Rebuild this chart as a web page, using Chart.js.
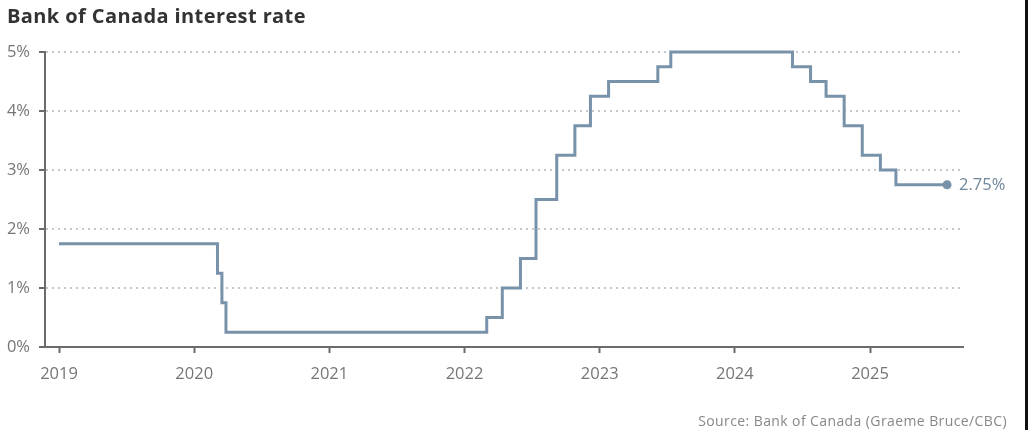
<!DOCTYPE html>
<html>
<head>
<meta charset="utf-8">
<script src="https://cdn.jsdelivr.net/npm/chart.js@4"></script>
<style>
  html, body { margin: 0; padding: 0; background: #fff; }
  body { width: 1028px; height: 430px; position: relative; overflow: hidden; font-family: "Open Sans", sans-serif; }
  #chart { position: absolute; left: 0; top: 0; }
  #title { position: absolute; left: 7px; top: 2px; font-size: 20px; font-weight: 700; letter-spacing: 0.4px; color: #333; white-space: nowrap; }
  #source { position: absolute; right: 21px; top: 411px; font-size: 14px; letter-spacing: 0.4px; color: #888; white-space: nowrap; }
  #edge { position: absolute; right: 0; top: 0; width: 3px; height: 430px; background: #111; }
</style>
</head>
<body>
<canvas id="chart" width="1028" height="430"></canvas>
<div id="title">Bank of Canada interest rate</div>
<div id="source">Source: Bank of Canada (Graeme Bruce/CBC)</div>
<div id="edge"></div>
<script>
// rate announcements (date the new rate took effect) and the policy rate in %
const dates = [
  "2019-01-01", "2020-03-04", "2020-03-16", "2020-03-27",
  "2022-03-02", "2022-04-13", "2022-06-01", "2022-07-13",
  "2022-09-07", "2022-10-26", "2022-12-07", "2023-01-25",
  "2023-06-07", "2023-07-12", "2024-06-05", "2024-07-24",
  "2024-09-04", "2024-10-23", "2024-12-11", "2025-01-29",
  "2025-03-12", "2025-07-28"
];
const rates = [
  1.75, 1.25, 0.75, 0.25,
  0.50, 1.00, 1.50, 2.50,
  3.25, 3.75, 4.25, 4.50,
  4.75, 5.00, 4.75, 4.50,
  4.25, 3.75, 3.25, 3.00,
  2.75, 2.75
];
const yearTicks = [2019, 2020, 2021, 2022, 2023, 2024, 2025];
const rateTicks = [0, 1, 2, 3, 4, 5];

const lineColor = "#7892a9";
const axisColor = "#6b6b6b";
const labelColor = "#767676";

function toYear(d) {
  const t = new Date(d + "T00:00:00Z");
  const y = t.getUTCFullYear();
  const start = Date.UTC(y, 0, 1);
  const end = Date.UTC(y + 1, 0, 1);
  return y + (t - start) / (end - start);
}

const points = dates.map((d, i) => ({ x: toYear(d), y: rates[i] }));
const last = points.length - 1;

const endLabel = {
  id: "endLabel",
  afterDatasetsDraw(chart) {
    const pt = chart.getDatasetMeta(0).data[last];
    const ctx = chart.ctx;
    ctx.save();
    ctx.font = "16.5px 'Open Sans', sans-serif";
    ctx.fillStyle = "#6f879c";
    ctx.textAlign = "left";
    ctx.textBaseline = "middle";
    ctx.fillText(rates[last].toFixed(2) + "%", pt.x + 12, pt.y + 1);
    ctx.restore();
  }
};

const ctx = document.getElementById("chart").getContext("2d");
new Chart(ctx, {
  type: "line",
  data: {
    datasets: [{
      data: points,
      stepped: true,
      borderColor: lineColor,
      borderWidth: 3,
      backgroundColor: lineColor,
      pointRadius: points.map((p, i) => (i === last ? 4.5 : 0)),
      pointHoverRadius: 0,
      pointBorderWidth: 0,
      fill: false,
      clip: 4
    }]
  },
  options: {
    responsive: false,
    animation: false,
    devicePixelRatio: 1,
    layout: { padding: { top: 52, right: 65, bottom: 0, left: 0 } },
    plugins: { legend: { display: false }, tooltip: { enabled: false } },
    scales: {
      x: {
        type: "linear",
        min: 2018.896,
        max: 2025.688,
        afterBuildTicks(scale) { scale.ticks = yearTicks.map(v => ({ value: v })); },
        afterFit(scale) { scale.height = 83; },
        border: { display: true, color: axisColor, width: 2 },
        grid: { drawOnChartArea: false, drawTicks: true, tickLength: 6, tickColor: axisColor, tickWidth: 2 },
        ticks: {
          padding: 11,
          color: labelColor,
          font: { family: "'Open Sans', sans-serif", size: 16.5 },
          callback: v => String(v)
        }
      },
      y: {
        min: 0,
        max: 5,
        afterBuildTicks(scale) { scale.ticks = rateTicks.map(v => ({ value: v })); },
        afterFit(scale) { scale.width = 45; },
        border: { display: true, color: axisColor, width: 2, dash: [2, 4] },
        grid: {
          color: c => (c.tick && c.tick.value === 0 ? "rgba(0,0,0,0)" : "#c4c8cc"),
          lineWidth: 2,
          drawTicks: true,
          tickLength: 6,
          tickColor: axisColor,
          tickWidth: 2,
          tickBorderDash: []
        },
        ticks: {
          padding: 9,
          color: labelColor,
          font: { family: "'Open Sans', sans-serif", size: 16.5 },
          callback: v => v + "%"
        }
      }
    }
  },
  plugins: [endLabel]
});
</script>
</body>
</html>
